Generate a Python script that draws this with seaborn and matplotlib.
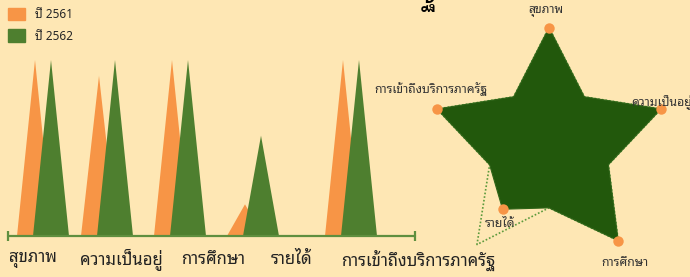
import matplotlib
matplotlib.use("Agg")
import matplotlib.pyplot as plt
import numpy as np
import seaborn as sns
from matplotlib.patches import Patch

# ── data ──
categories = ["สุขภาพ", "ความเป็นอยู่", "การศึกษา", "รายได้", "การเข้าถึงบริการภาครัฐ"]
years = ["ปี 2561", "ปี 2562"]
values_2561 = [100, 91, 100, 18, 100]
values_2562 = [100, 100, 100, 57, 100]

# radar: outer point per category, inner (valley) point between categories
radar_outer = [100, 100, 100, 67, 100]
radar_inner = [51, 53, 53, 53, 51]
ref_outer = [100, 100, 100, 104, 100]  # dotted outline

# ── layout (pixels) ──
W, H, DPI = 690, 277, 100
GROUP_X = [51, 115, 188, 261, 359]
LABEL_X = [33, 121, 213, 292, 418]
BAR_HALF = 18
ORANGE_SHIFT = -16
LABEL_OFFSETS = [(-3, 17), (-30, 7), (7, -22), (-3, -14), (-6, 20)]
LABEL_HA = ["center", "left", "center", "center", "center"]

BG = "#FEE7B4"
ORANGE = "#F79546"
GREEN = "#4E7F2F"
DARK = "#22580C"
DOT_GREEN = "#5C9A3C"

sns.set_theme(style="white", rc={"figure.facecolor": BG, "axes.facecolor": BG})
plt.rcParams["font.family"] = ["Noto Sans Thai Looped", "DejaVu Sans"]

fig = plt.figure(figsize=(W / DPI, H / DPI), dpi=DPI)

# ── left: triangle columns ──
ax = fig.add_axes([0, 41 / H, 430 / W, 176 / H])
ax.set_xlim(0, 430)
ax.set_ylim(0, 100)
ax.axis("off")

for cx, v1, v2 in zip(GROUP_X, values_2561, values_2562):
    ox = cx + ORANGE_SHIFT
    ax.fill([ox - BAR_HALF, ox, ox + BAR_HALF], [0, v1, 0], color=ORANGE, lw=0, zorder=2)
    ax.fill([cx - BAR_HALF, cx, cx + BAR_HALF], [0, v2, 0], color=GREEN, lw=0, zorder=3)

ax.plot([8, 415], [0, 0], color="#5F8F3F", lw=1.6, clip_on=False, zorder=4)
ax.plot([8, 415], [0, 0], ls="none", marker="|", ms=7, mew=1.6, color="#5F8F3F",
        clip_on=False, zorder=4)

for lx, name in zip(LABEL_X, categories):
    ax.annotate(name, xy=(lx, 0), xytext=(0, -24), textcoords="offset pixels",
                ha="center", va="center", fontsize=12, color="#222222",
                annotation_clip=False)

handles = [Patch(color=ORANGE), Patch(color=GREEN)]
fig.legend(handles, years, loc="upper left", bbox_to_anchor=(0.0, 1.0), frameon=False,
           fontsize=8.5, handlelength=1.45, handleheight=1.27, handletextpad=0.9,
           labelspacing=0.7, borderaxespad=0.35, borderpad=0.3)

# ── right: star radar ──
cx, cy, R = 549, 145.4, 117.8
pax = fig.add_axes([(cx - R) / W, (H - cy - R) / H, 2 * R / W, 2 * R / H], projection="polar")
pax.set_theta_zero_location("N")
pax.set_theta_direction(-1)
pax.set_ylim(0, 100)
pax.axis("off")

n = len(categories)
theta_outer = np.arange(n) * 2 * np.pi / n
theta_inner = theta_outer + np.pi / n

def star(outer, inner):
    th, r = [], []
    for to, vo, ti, vi in zip(theta_outer, outer, theta_inner, inner):
        th += [to, ti]
        r += [vo, vi]
    return th + th[:1], r + r[:1]

th_ref, r_ref = star(ref_outer, radar_inner)
pax.plot(th_ref, r_ref, color=DOT_GREEN, lw=1.2, ls=(0, (1, 1.2)), clip_on=False, zorder=1)

th_s, r_s = star(radar_outer, radar_inner)
pax.fill(th_s, r_s, color=DARK, lw=0.8, ec="#2E6418", zorder=2, clip_on=False)
pax.plot(theta_outer, radar_outer, ls="none", marker="o", ms=7.5, color=ORANGE, mew=0,
         clip_on=False, zorder=3)

for t, v, name, (dx, dy), ha in zip(theta_outer, radar_outer, categories, LABEL_OFFSETS, LABEL_HA):
    pax.annotate(name, xy=(t, v), xytext=(dx, dy), textcoords="offset pixels",
                 ha=ha, va="center", fontsize=8.8, color="#333333", annotation_clip=False)

# clipped title at the top edge
fig.text(428 / W, 1.0 - 3 / H, "ฐ", ha="center", va="baseline", fontsize=20,
         fontweight="bold", color="black")

fig.savefig("out.png", dpi=DPI, facecolor=BG)
